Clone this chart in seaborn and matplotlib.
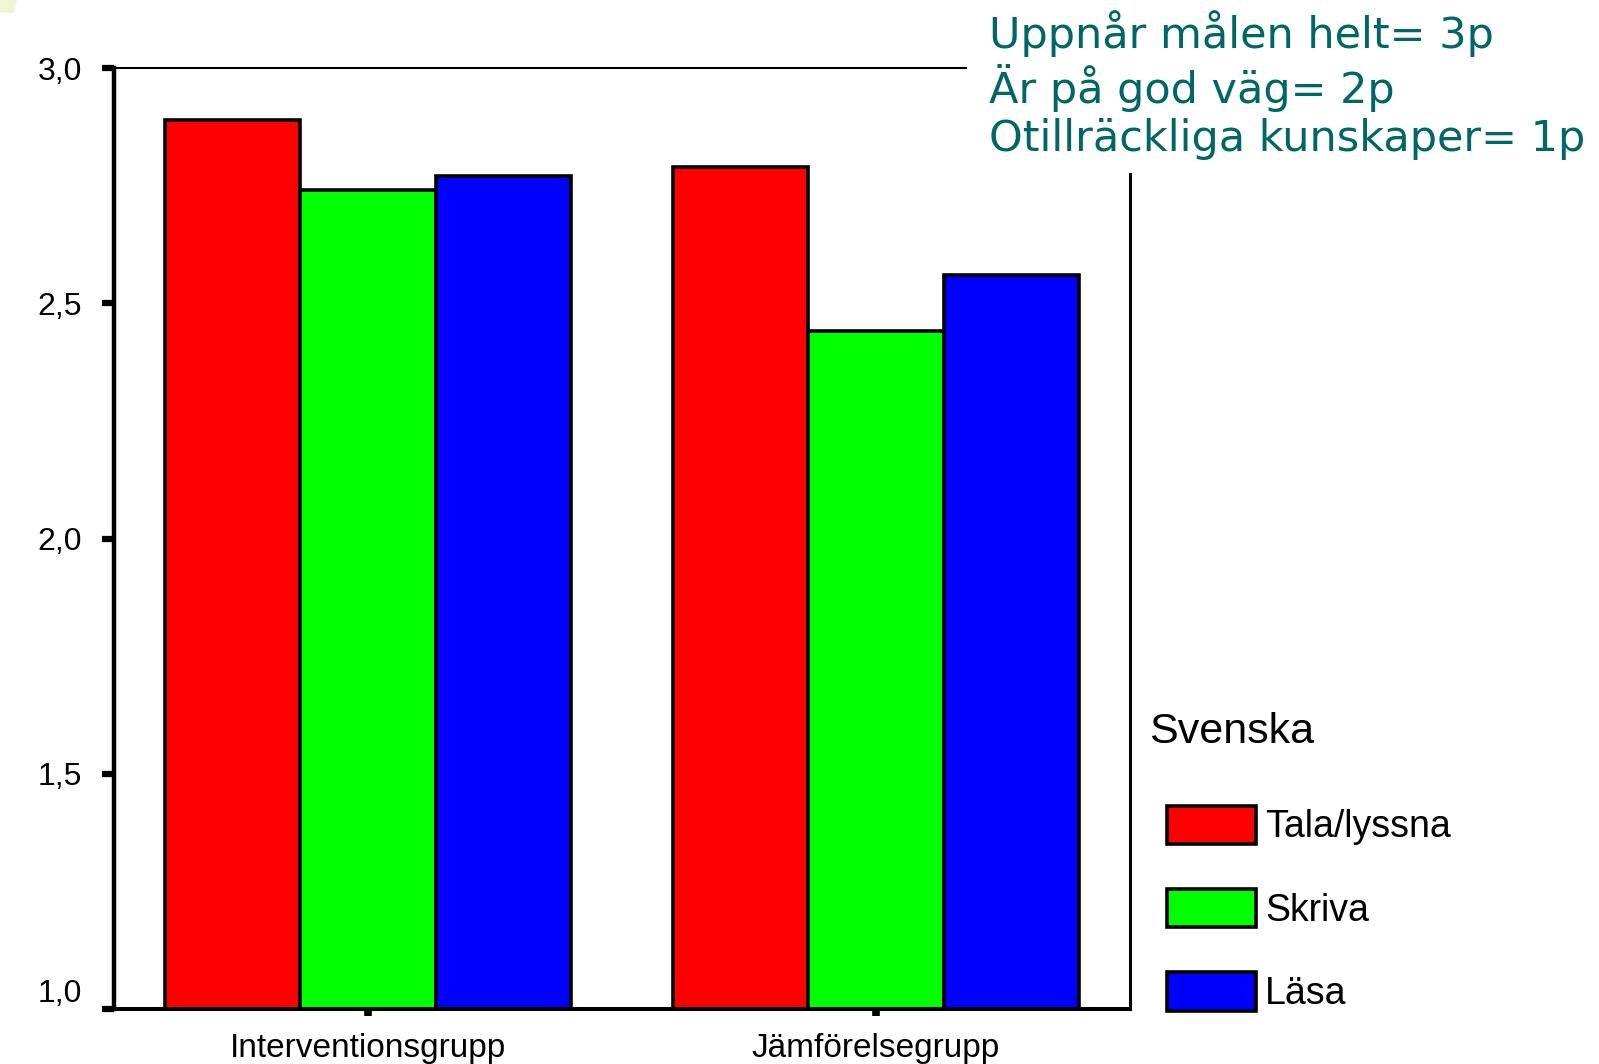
import matplotlib
matplotlib.use("Agg")
import matplotlib.pyplot as plt
from matplotlib.patches import Rectangle, Polygon
import matplotlib.transforms as mtransforms
import pandas as pd
import seaborn as sns

# Mean scores per group and subject area (scale 1-3)
groups = ["Interventionsgrupp", "Jämförelsegrupp"]
subjects = ["Tala/lyssna", "Skriva", "Läsa"]
tala_lyssna = [2.89, 2.79]
skriva = [2.74, 2.44]
lasa = [2.77, 2.56]

y_ticks = [1.0, 1.5, 2.0, 2.5, 3.0]
y_tick_labels = ["1,0", "1,5", "2,0", "2,5", "3,0"]
legend_title = "Svenska"
score_key = ["Uppnår målen helt= 3p", "Är på god väg= 2p", "Otillräckliga kunskaper= 1p"]

colors = ["#ff0000", "#00ff00", "#0000ff"]

df = pd.DataFrame({
    "grupp": groups * 3,
    "Svenska": [s for s in subjects for _ in groups],
    "medel": tala_lyssna + skriva + lasa,
})

sns.set_theme(style="white")
plt.rcParams["font.family"] = ["Liberation Sans", "DejaVu Sans"]

W, H = 1599, 1064
fig = plt.figure(figsize=(W / 100, H / 100), dpi=100)
fig.patch.set_facecolor("white")

ax = fig.add_axes([114 / W, 1 - 1009 / H, (1130 - 114) / W, (1009 - 68) / H])
sns.barplot(
    data=df, x="grupp", y="medel", hue="Svenska",
    order=groups, hue_order=subjects, palette=colors,
    saturation=1, width=0.8, errorbar=None,
    edgecolor="black", linewidth=2.6, ax=ax,
)

ax.set_xlim(-0.5, 1.5)
ax.set_ylim(1.0, 3.0)
ax.set_yticks(y_ticks)
ax.set_yticklabels(y_tick_labels)
ax.set_xlabel("")
ax.set_ylabel("")
ax.set_facecolor("white")

for side, lw in {"left": 3.2, "bottom": 2.9, "top": 1.5, "right": 2.2}.items():
    ax.spines[side].set_visible(True)
    ax.spines[side].set_color("black")
    ax.spines[side].set_linewidth(lw)

ax.tick_params(axis="y", left=True, direction="out", length=9, width=4.5,
               color="black", pad=14, labelsize=23, labelcolor="black")
ax.tick_params(axis="x", bottom=True, direction="out", length=5, width=5.5,
               color="black", pad=12, labelsize=24, labelcolor="black")
# Lowest value label rests just above the baseline
ax.get_yticklabels()[0].set_verticalalignment("bottom")

leg = ax.legend(
    title=legend_title, loc="upper left",
    bbox_to_anchor=(1167 / W, 1 - 722 / H), bbox_transform=fig.transFigure,
    frameon=False, fontsize=27, title_fontsize=31,
    handlelength=2.37, handleheight=1.2, labelspacing=1.16,
    handletextpad=0.25, alignment="left", borderpad=0, borderaxespad=0,
)
for h in leg.legend_handles:
    h.set_edgecolor("black")
    h.set_linewidth(2.6)
for t in leg.get_texts():
    t.set_color("black")
# Title sits a little left of and above the swatch column
title = leg.get_title()
title.set_color("black")
title.set_transform(title.get_transform()
                    + mtransforms.ScaledTranslation(-0.18, 0.10, fig.dpi_scale_trans))

# White panel behind the scoring key, covering the frame corner
fig.add_artist(Rectangle((967 / W, 1 - 173 / H), 1, 1, transform=fig.transFigure,
                         facecolor="white", edgecolor="none", zorder=3))
fig.text(989 / W, 1 - 10 / H, "\n".join(score_key), ha="left", va="top",
         color="#006666", fontsize=31, family="DejaVu Sans",
         linespacing=1.18, zorder=5)

# Small pale mark in the top-left corner
fig.add_artist(Polygon([(0, 1), (17 / W, 1), (14 / W, 1 - 13 / H), (0, 1 - 13 / H)],
                       closed=True, transform=fig.transFigure,
                       facecolor="#eef6d2", edgecolor="none", zorder=3))

fig.savefig("out.png", dpi=100)
